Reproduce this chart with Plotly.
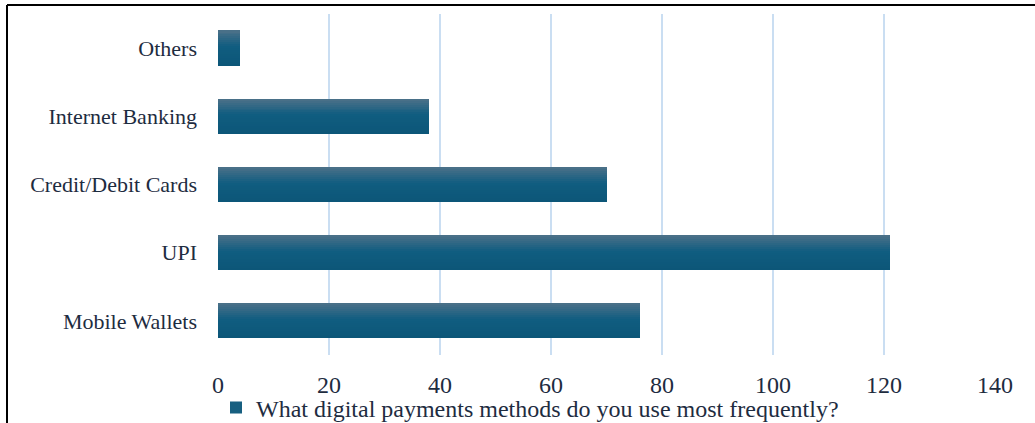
import plotly.graph_objects as go

# Survey responses: most frequently used digital payment method
categories = ["Mobile Wallets", "UPI", "Credit/Debit Cards", "Internet Banking", "Others"]
responses = [76, 121, 70, 38, 4]
series_name = "What digital payments methods do you use most frequently?"
x_ticks = [0, 20, 40, 60, 80, 100, 120, 140]

# Vertical gradient stops for the bars (position from top, colour)
grad_stops = [(0.0, (0x4d, 0x71, 0x89)), (0.45, (0x10, 0x5d, 0x80)), (1.0, (0x0c, 0x56, 0x78))]

BAR_W = 0.513
N_SLICES = 18
TEXT = "#1e2c3f"
FONT = "Liberation Serif"


def grad_color(t):
    for (p0, c0), (p1, c1) in zip(grad_stops[:-1], grad_stops[1:]):
        if p0 <= t <= p1:
            f = (t - p0) / (p1 - p0)
            r, g, b = (round(a + (b_ - a) * f) for a, b_ in zip(c0, c1))
            return f"rgb({r},{g},{b})"
    r, g, b = grad_stops[-1][1]
    return f"rgb({r},{g},{b})"


fig = go.Figure()
slice_w = BAR_W / N_SLICES
for i in range(N_SLICES):
    # slice i counts upward from the bottom edge of each bar
    t_from_top = 1 - (i + 0.5) / N_SLICES
    fig.add_trace(go.Bar(
        x=responses,
        y=categories,
        orientation="h",
        width=slice_w * 1.08,
        offset=-BAR_W / 2 + i * slice_w,
        marker=dict(color=grad_color(t_from_top), line=dict(width=0)),
        showlegend=False,
        hoverinfo="skip" if i else "x+y",
    ))

# legend entry for the series
fig.add_trace(go.Bar(
    x=[None], y=[None], orientation="h", name=series_name,
    marker=dict(color="#175f80", line=dict(width=0)), showlegend=True,
))

L, R, T, B = 218, 40, 14, 68
W, H = 1035, 423
pw, ph = W - L - R, H - T - B

fig.update_layout(
    width=W, height=H,
    margin=dict(l=L, r=R, t=T, b=B, autoexpand=False),
    barmode="overlay",
    bargap=0,
    plot_bgcolor="white",
    paper_bgcolor="white",
    font=dict(family=FONT, color=TEXT),
    xaxis=dict(
        range=[0, 140], tickvals=x_ticks, showgrid=True, gridcolor="#cadef2",
        gridwidth=2, zeroline=False, showline=False, ticks="",
        tickfont=dict(size=24, family=FONT, color=TEXT), ticklabelstandoff=13,
    ),
    yaxis=dict(
        type="category", categoryorder="array", categoryarray=categories,
        range=[-0.5, 4.5], showgrid=False, zeroline=False, showline=False, ticks="",
        tickfont=dict(size=22, family=FONT, color=TEXT), ticklabelstandoff=20,
    ),
    legend=dict(
        orientation="h", x=(216 - L) / pw, xanchor="left", y=-(408 - T - ph) / ph,
        yanchor="middle", font=dict(size=24, family=FONT, color=TEXT),
        bgcolor="rgba(0,0,0,0)",
    ),
    shapes=[
        # chart frame along the top and left edges
        dict(type="line", xref="paper", yref="paper",
             x0=(7 - L) / pw, x1=(W + 5 - L) / pw, y0=1 + (T - 5) / ph, y1=1 + (T - 5) / ph,
             line=dict(color="black", width=2)),
        dict(type="line", xref="paper", yref="paper",
             x0=(7 - L) / pw, x1=(7 - L) / pw, y0=1 + (T - 5) / ph, y1=-(B + 5) / ph,
             line=dict(color="black", width=2)),
    ],
)

fig.write_html("out.html")
